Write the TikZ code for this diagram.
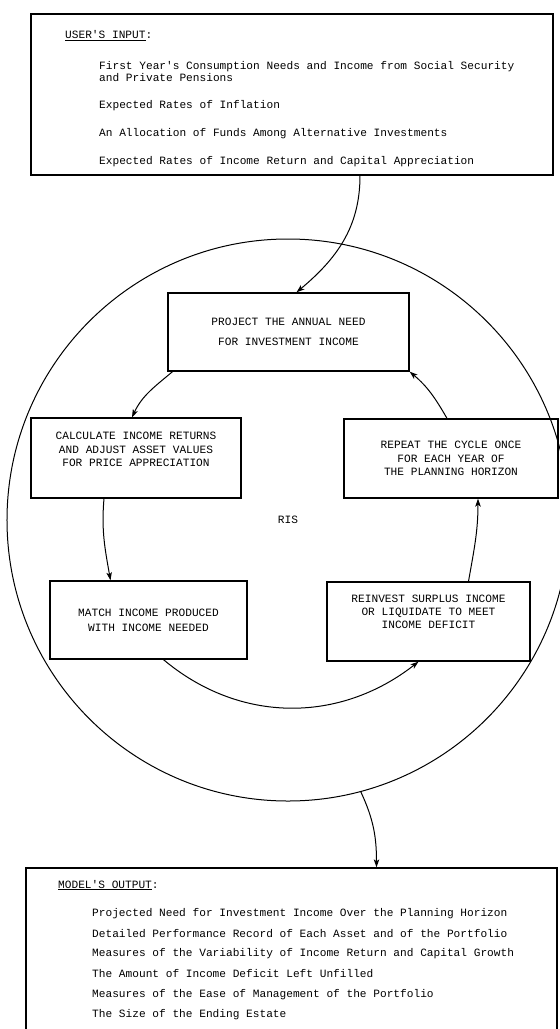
\documentclass[tikz,border=0pt]{standalone}
\usepackage{fontspec}
\setmonofont{Liberation Mono}
\usetikzlibrary{arrows.meta,positioning}

\newcommand{\risfont}{\ttfamily\fontsize{11.2}{13.5}\selectfont}
\tikzset{
	stage/.style={draw, line width=1.3bp, rectangle, align=center, font=\risfont, inner sep=2bp},
	listbox/.style={draw, line width=1.3bp, rectangle},
	entry/.style={anchor=west, inner sep=0pt, font=\risfont, align=left},
	flow/.style={->, line width=1bp},
}

\begin{document}
\begin{tikzpicture}[>={Stealth[length=8bp,width=5.5bp,inset=2bp]}, x=1bp, y=1bp]
	\useasboundingbox (0,0) rectangle (560,-1029);
	\clip (0,0) rectangle (560,-1029);

	% user's input
	\node (input) at (292,-94.5) [listbox, minimum width=522bp, minimum height=161bp] {};
	\node (inhead) at (65,-36)  [entry] {\underline{USER'S INPUT}:};
	\node (in1)    at (99,-72)  [entry] {First Year's Consumption Needs and Income from Social Security\\[-1.5bp]and Private Pensions};
	\node (in2)    at (99,-106) [entry] {Expected Rates of Inflation};
	\node (in3)    at (99,-134) [entry] {An Allocation of Funds Among Alternative Investments};
	\node (in4)    at (99,-162) [entry] {Expected Rates of Income Return and Capital Appreciation};

	% the cycle
	\node (ris) at (288,-520) [draw, circle, line width=1bp, minimum size=562bp, font=\risfont] {RIS};

	\node (proj)   at (288.5,-332) [stage, minimum width=241bp, minimum height=78bp] {PROJECT THE ANNUAL NEED\\[6bp]FOR INVESTMENT INCOME};
	\node (calc)   at (136,-458)   [stage, minimum width=210bp, minimum height=80bp] {CALCULATE INCOME RETURNS\\AND ADJUST ASSET VALUES\\FOR PRICE APPRECIATION\\[4bp]};
	\node (repeat) at (451,-458.5) [stage, minimum width=214bp, minimum height=79bp] {REPEAT THE CYCLE ONCE\\FOR EACH YEAR OF\\THE PLANNING HORIZON};
	\node (match)  at (148.5,-620) [stage, minimum width=197bp, minimum height=78bp] {MATCH INCOME PRODUCED\\[1.5bp]WITH INCOME NEEDED};
	\node (reinv)  at (428.5,-621.5) [stage, minimum width=203bp, minimum height=79bp] {REINVEST SURPLUS INCOME\\OR LIQUIDATE TO MEET\\INCOME DEFICIT\\[6bp]};

	% model's output
	\node (output) at (291.5,-954) [listbox, minimum width=531bp, minimum height=172bp] {};
	\node (outhead) at (58,-885)  [entry] {\underline{MODEL'S OUTPUT}:};
	\node (out1)    at (92,-914)  [entry] {Projected Need for Investment Income Over the Planning Horizon};
	\node (out2)    at (92,-934)  [entry] {Detailed Performance Record of Each Asset and of the Portfolio};
	\node (out3)    at (92,-954)  [entry] {Measures of the Variability of Income Return and Capital Growth};
	\node (out4)    at (92,-974)  [entry] {The Amount of Income Deficit Left Unfilled};
	\node (out5)    at (92,-995)  [entry] {Measures of the Ease of Management of the Portfolio};
	\node (out6)    at (92,-1015) [entry] {The Size of the Ending Estate};

	\draw [flow] ([xshift=68bp]input.south) to [out=-90,in=40] ([xshift=8bp]proj.north);
	\draw [flow] ([xshift=-116bp]proj.south) to [out=-140,in=65] ([xshift=-4bp]calc.north);
	\draw [flow] ([xshift=-32bp]calc.south) to [out=-95,in=100] ([xshift=-38bp]match.north);
	\draw [flow] ([xshift=15bp]match.south) to [out=-40,in=-142] ([xshift=-10bp]reinv.south);
	\draw [flow] ([xshift=40bp]reinv.north) to [out=80,in=-90] ([xshift=27bp]repeat.south);
	\draw [flow] ([xshift=-4bp]repeat.north) to [out=120,in=-40] (proj.south east);
	\draw [flow] (ris.-75) to [out=-65,in=90] ([xshift=85bp]output.north);
\end{tikzpicture}
\end{document}
